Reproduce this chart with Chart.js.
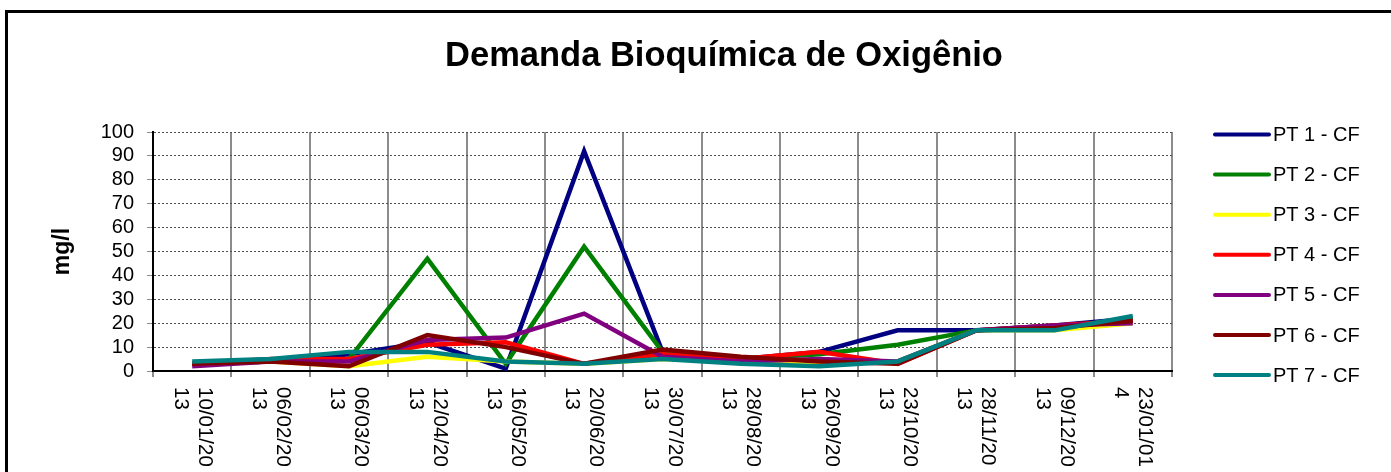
<!DOCTYPE html>
<html>
<head>
<meta charset="utf-8">
<script src="https://cdn.jsdelivr.net/npm/chart.js@4.4.1/dist/chart.umd.min.js"></script>
<style>
  html, body { margin: 0; padding: 0; background: #fff; }
  #wrap { width: 1391px; height: 472px; position: relative; }
</style>
</head>
<body>
<div id="wrap"><canvas id="dbo"></canvas></div>
<script>
// datas de coleta (duas linhas, como no original)
const categories = [
    ['10/01/20', '13'], ['06/02/20', '13'], ['06/03/20', '13'], ['12/04/20', '13'],
    ['16/05/20', '13'], ['20/06/20', '13'], ['30/07/20', '13'], ['28/08/20', '13'],
    ['26/09/20', '13'], ['23/10/20', '13'], ['28/11/20', '13'], ['09/12/20', '13'],
    ['23/01/01', '4']
];

const pt1 = [3, 4, 7, 12, 1, 92, 8, 5, 8, 17, 17, 19, 22];
const pt2 = [3, 4, 5, 47, 3, 52, 8, 5, 7, 11, 17, 18, 22];
const pt3 = [3, 4, 2, 6, 4, 3, 5, 4, 3, 4, 17, 17, 20];
const pt4 = [3, 5, 5, 11, 12, 3, 7, 5, 8, 3, 17, 19, 21];
const pt5 = [2, 4, 4, 13, 14, 24, 6, 4, 5, 4, 17, 19, 20];
const pt6 = [3, 4, 2, 15, 10, 3, 9, 6, 4, 3, 17, 18, 21];
const pt7 = [4, 5, 8, 8, 4, 3, 5, 3, 2, 4, 17, 17, 23];

const seriesNames = ['PT 1 - CF', 'PT 2 - CF', 'PT 3 - CF', 'PT 4 - CF', 'PT 5 - CF', 'PT 6 - CF', 'PT 7 - CF'];
const seriesColors = ['#000080', '#008000', '#ffff00', '#ff0000', '#800080', '#800000', '#008080'];
const yTicks = [0, 10, 20, 30, 40, 50, 60, 70, 80, 90, 100];

const titleText = 'Demanda Bioquímica de Oxigênio';
const yTitle = 'mg/l';
const FONT = '"Liberation Sans", Arial, sans-serif';

const allSeries = [pt1, pt2, pt3, pt4, pt5, pt6, pt7];

// moldura externa + fundo
const framePlugin = {
    id: 'frame',
    beforeDraw(chart) {
        const { ctx, width, height } = chart;
        ctx.save();
        ctx.fillStyle = '#fff';
        ctx.fillRect(0, 0, width, height);
        ctx.strokeStyle = '#000';
        ctx.lineWidth = 3;
        ctx.strokeRect(6.5, 11.5, width + 20, height + 20);
        ctx.restore();
    }
};

const titlePlugin = {
    id: 'bigTitle',
    afterDraw(chart) {
        const { ctx } = chart;
        ctx.save();
        ctx.font = 'bold 34.5px ' + FONT;
        ctx.fillStyle = '#000';
        ctx.textAlign = 'center';
        ctx.textBaseline = 'alphabetic';
        ctx.fillText(titleText, 724, 66);
        ctx.restore();
    }
};

// rótulos do eixo X girados 90° (leitura de cima para baixo)
const dateLabelsPlugin = {
    id: 'dateLabels',
    afterDraw(chart) {
        const { ctx } = chart;
        const x = chart.scales.x;
        ctx.save();
        ctx.font = '20.5px ' + FONT;
        ctx.fillStyle = '#000';
        ctx.textAlign = 'left';
        ctx.textBaseline = 'middle';
        categories.forEach((lines, i) => {
            const px = x.getPixelForValue(i);
            ctx.save();
            ctx.translate(px, chart.chartArea.bottom + 16);
            ctx.rotate(Math.PI / 2);
            ctx.fillText(lines[0], 0, -12);
            ctx.fillText(lines[1], 0, 12);
            ctx.restore();
        });
        ctx.restore();
    }
};

const legendPlugin = {
    id: 'sideLegend',
    afterDraw(chart) {
        const { ctx, chartArea } = chart;
        const x0 = chartArea.right + 41;
        ctx.save();
        ctx.font = '20px ' + FONT;
        ctx.textBaseline = 'middle';
        ctx.lineCap = 'round';
        chart.data.datasets.forEach((ds, i) => {
            const y = chartArea.top + 2.5 + i * 40.1;
            ctx.strokeStyle = ds.borderColor;
            ctx.lineWidth = 4;
            ctx.beginPath();
            ctx.moveTo(x0 + 2, y);
            ctx.lineTo(x0 + 56, y);
            ctx.stroke();
            ctx.fillStyle = '#000';
            ctx.fillText(ds.label, x0 + 60, y + 1);
        });
        ctx.restore();
    }
};

new Chart(document.getElementById('dbo'), {
    type: 'line',
    data: {
        labels: categories.map(c => c.join(' ')),
        datasets: allSeries.map((vals, i) => ({
            label: seriesNames[i],
            data: vals,
            borderColor: seriesColors[i],
            backgroundColor: seriesColors[i],
            borderWidth: 4.5,
            pointRadius: 0,
            tension: 0,
            fill: false,
            order: allSeries.length - i
        }))
    },
    options: {
        responsive: true,
        maintainAspectRatio: false,
        animation: false,
        devicePixelRatio: 1,
        layout: { padding: { left: 49, right: 219, top: 132, bottom: 0 } },
        plugins: {
            legend: { display: false },
            title: { display: false },
            tooltip: { enabled: false }
        },
        scales: {
            x: {
                type: 'category',
                offset: true,
                grid: {
                    offset: true,
                    color: '#8c8c8c',
                    lineWidth: 2,
                    tickLength: 6,
                    tickColor: '#8c8c8c'
                },
                border: { color: '#000', width: 2 },
                ticks: { display: false },
                afterFit(scale) { scale.height = 101; }
            },
            y: {
                min: 0,
                max: 100,
                afterBuildTicks(scale) { scale.ticks = yTicks.map(v => ({ value: v })); },
                grid: {
                    color: '#505050',
                    lineWidth: 1,
                    tickLength: 6,
                    tickColor: '#8c8c8c'
                },
                border: { color: '#000', width: 2, dash: [2, 2] },
                ticks: {
                    color: '#000',
                    padding: 13,
                    autoSkip: false,
                    font: { family: FONT, size: 20 }
                },
                title: {
                    display: true,
                    text: yTitle,
                    color: '#000',
                    padding: 0,
                    font: { family: FONT, size: 23, weight: 'bold' }
                },
                afterFit(scale) { scale.width = 104; }
            }
        }
    },
    plugins: [framePlugin, titlePlugin, dateLabelsPlugin, legendPlugin]
});
</script>
</body>
</html>
